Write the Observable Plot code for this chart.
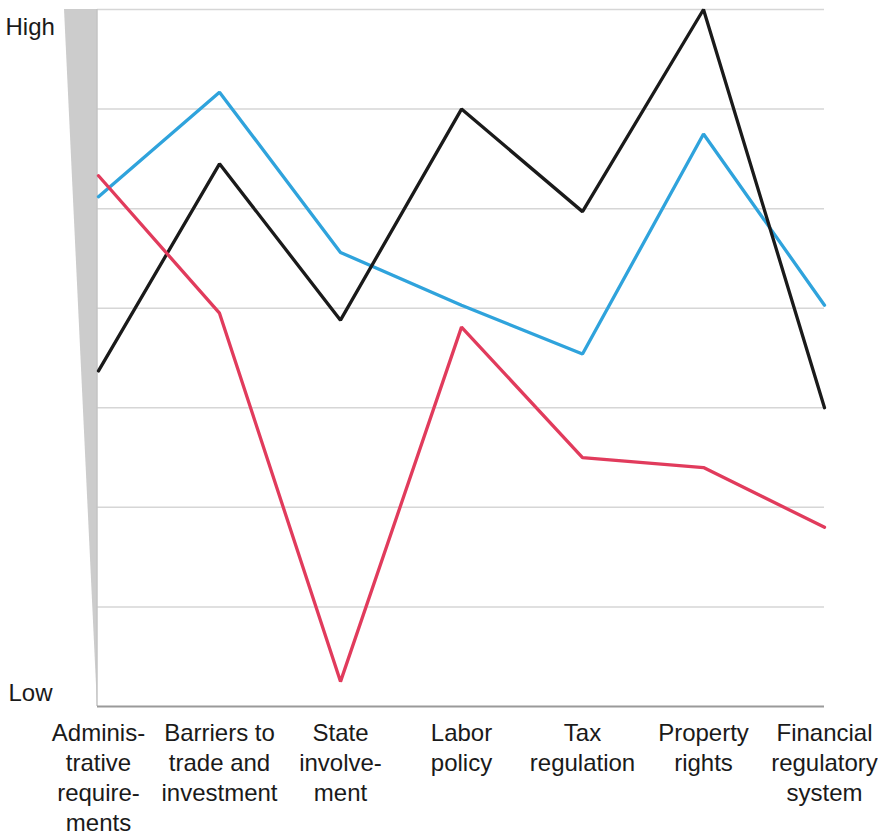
<!DOCTYPE html>
<html>
<head>
<meta charset="utf-8">
<script src="https://cdn.jsdelivr.net/npm/d3@7"></script>
<script src="https://cdn.jsdelivr.net/npm/@observablehq/plot@0.6"></script>
<style>
  html, body { margin: 0; padding: 0; background: #fff; }
  #chart svg { display: block; }
</style>
</head>
<body>
<div id="chart"></div>
<script>
const categories = [
  "Administrative requirements",
  "Barriers to trade and investment",
  "State involvement",
  "Labor policy",
  "Tax regulation",
  "Property rights",
  "Financial regulatory system"
];
const tickLabels = [
  "Adminis-\ntrative\nrequire-\nments",
  "Barriers to\ntrade and\ninvestment",
  "State\ninvolve-\nment",
  "Labor\npolicy",
  "Tax\nregulation",
  "Property\nrights",
  "Financial\nregulatory\nsystem"
];
const seriesA = [5.12, 6.17, 4.56, 4.03, 3.54, 5.75, 4.03];
const seriesB = [3.37, 5.45, 3.88, 6.00, 4.97, 7.00, 3.00];
const seriesC = [5.33, 3.95, 0.25, 3.81, 2.50, 2.40, 1.80];
const gridValues = [1, 2, 3, 4, 5, 6, 7];
const yLabels = ["Low", "High"];

const series = [
  {name: "Series A", color: "#2fa3dc", values: seriesA},
  {name: "Series B", color: "#1a1a1a", values: seriesB},
  {name: "Series C", color: "#e13b5c", values: seriesC}
];
const rows = series.flatMap(s => s.values.map((v, i) => ({series: s.name, category: categories[i], value: v})));
const labelMap = new Map(categories.map((c, i) => [c, tickLabels[i]]));

const wedge = (index, scales, values, dimensions) => {
  const yTop = scales.y(7), yBot = scales.y(0);
  const xr = dimensions.marginLeft;
  const ns = "http://www.w3.org/2000/svg";
  const g = document.createElementNS(ns, "g");
  const p = document.createElementNS(ns, "polygon");
  p.setAttribute("points", `${xr - 33},${yTop} ${xr},${yTop} ${xr},${yBot}`);
  p.setAttribute("fill", "#cccccc");
  g.appendChild(p);
  const l = document.createElementNS(ns, "line");
  l.setAttribute("x1", xr); l.setAttribute("x2", xr);
  l.setAttribute("y1", yTop); l.setAttribute("y2", yBot);
  l.setAttribute("stroke", "#c4c4c4");
  l.setAttribute("stroke-width", 1.5);
  g.appendChild(l);
  return g;
};

const chart = Plot.plot({
  width: 878,
  height: 834,
  marginLeft: 97,
  marginRight: 54,
  marginTop: 9,
  marginBottom: 128,
  style: {fontFamily: "'Liberation Sans', Arial, sans-serif", fontSize: "24px", color: "#1a1a1a", background: "#fff"},
  x: {type: "point", domain: categories, padding: 0, label: null},
  y: {domain: [0, 7], label: null, axis: null},
  color: {domain: series.map(s => s.name), range: series.map(s => s.color)},
  marks: [
    Plot.ruleY(gridValues, {stroke: "#d6d6d6", strokeWidth: 1.5}),
    wedge,
    Plot.ruleY([0], {stroke: "#9a9a9a", strokeWidth: 2}),
    Plot.line(rows, {x: "category", y: "value", z: "series", stroke: "series", strokeWidth: 3.3, strokeLinejoin: "miter", strokeLinecap: "round"}),
    Plot.axisX({
      tickSize: 0,
      tickPadding: 0,
      tickFormat: d => labelMap.get(d),
      fontSize: 24,
      lineHeight: 1.25,
      lineAnchor: "top",
      dy: 13,
      fill: "#1a1a1a",
      label: null
    }),
    Plot.text([yLabels[1]], {frameAnchor: "top-left", textAnchor: "start", lineAnchor: "top", dx: -92, dy: 8, fontSize: 24, fill: "#1a1a1a"}),
    Plot.text([yLabels[0]], {frameAnchor: "bottom-left", textAnchor: "start", lineAnchor: "bottom", dx: -89, dy: -6, fontSize: 24, fill: "#1a1a1a"})
  ]
});
document.getElementById("chart").appendChild(chart);
</script>
</body>
</html>
